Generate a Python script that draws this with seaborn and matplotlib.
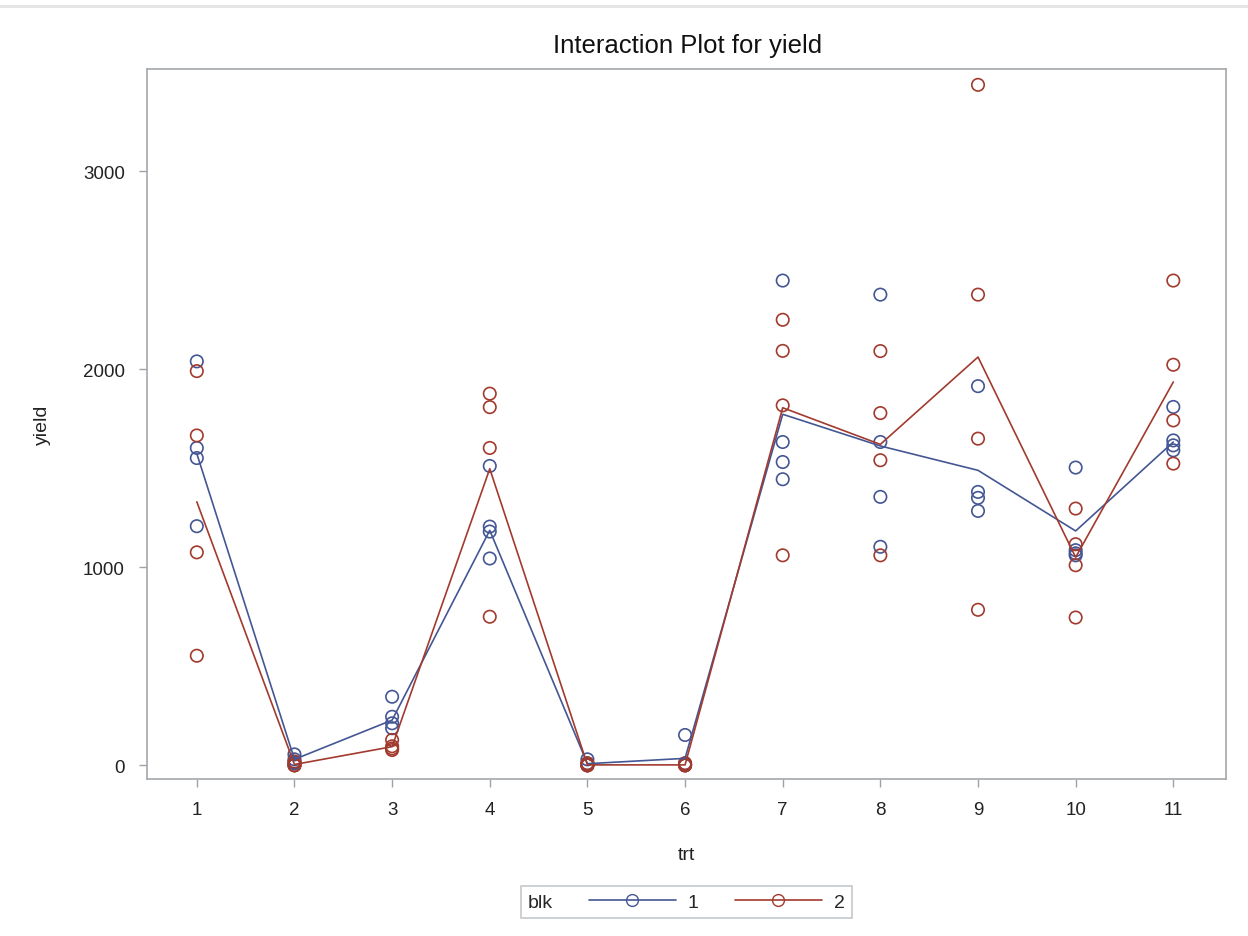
import numpy as np
import pandas as pd
import seaborn as sns
import matplotlib
matplotlib.use("Agg")
import matplotlib.pyplot as plt
from matplotlib.lines import Line2D

# treatments and blocks
trt_levels = [1, 2, 3, 4, 5, 6, 7, 8, 9, 10, 11]
blk_levels = ["1", "2"]

yield_blk1 = [
    [2039, 1602, 1551, 1207],
    [55, 30, 15, 10],
    [346, 245, 212, 187],
    [1511, 1205, 1180, 1044],
    [30, 10, 5, 0],
    [153, 10, 5, 0],
    [2447, 1632, 1531, 1444],
    [2376, 1632, 1355, 1103],
    [1914, 1380, 1350, 1284],
    [1503, 1086, 1070, 1060],
    [1809, 1640, 1615, 1590],
]
yield_blk2 = [
    [1990, 1665, 1075, 553],
    [19, 0, 0, 0],
    [128, 96, 85, 77],
    [1876, 1808, 1602, 750],
    [10, 0, 0, 0],
    [10, 0, 0, 0],
    [2249, 2092, 1817, 1060],
    [2091, 1778, 1540, 1060],
    [3435, 2376, 1649, 785],
    [1296, 1116, 1010, 746],
    [2447, 2022, 1741, 1523],
]

# cell means drawn as the interaction lines
mean_blk1 = [1573, 30, 228, 1186, 8, 35, 1772, 1612, 1489, 1183, 1632]
mean_blk2 = [1330, 4, 94, 1497, 2, 2, 1805, 1620, 2061, 1050, 1935]

colors = {"1": "#445694", "2": "#A23A2E"}

rows = []
for blk, values in zip(blk_levels, [yield_blk1, yield_blk2]):
    for t, obs in zip(trt_levels, values):
        for v in obs:
            rows.append({"trt": t, "blk": blk, "yield": v})
df = pd.DataFrame(rows)

means = pd.DataFrame({
    "trt": trt_levels * 2,
    "blk": ["1"] * len(trt_levels) + ["2"] * len(trt_levels),
    "yield": mean_blk1 + mean_blk2,
})

sns.set_theme(style="white")
plt.rcParams["font.family"] = ["Liberation Sans", "DejaVu Sans"]

fig = plt.figure(figsize=(12.48, 9.37), dpi=100)
ax = fig.add_axes([0.1178, 0.1676, 0.8646, 0.7577])

sns.lineplot(data=means, x="trt", y="yield", hue="blk", palette=colors,
             legend=False, linewidth=1.2, ax=ax)
sns.scatterplot(data=df, x="trt", y="yield", hue="blk", palette=colors,
                marker="o", s=80, linewidth=1.2, legend=False, ax=ax)

# hollow circles
for coll in ax.collections:
    fc = coll.get_facecolors()
    coll.set_edgecolors(fc)
    coll.set_facecolors("none")

ax.set_xlim(0.49, 11.54)
ax.set_ylim(-69, 3515)
ax.set_xticks(trt_levels)
ax.set_yticks([0, 1000, 2000, 3000])
ax.tick_params(axis="both", which="both", length=6, width=1, color="#9ea2a6",
               labelsize=13.5, labelcolor="#222222")
ax.tick_params(axis="x", bottom=True, pad=10)
ax.tick_params(axis="y", left=True, pad=10)
for sp in ax.spines.values():
    sp.set_color("#a4a8ac")
    sp.set_linewidth(1.2)

ax.set_xlabel("trt", fontsize=14, color="#222222", labelpad=20)
ax.set_ylabel("yield", fontsize=14, color="#222222", labelpad=23)
fig.text(0.551, 0.951, "Interaction Plot for yield", ha="center", va="center",
         fontsize=18.5, color="#111111")

# legend with the title on the left
handles = [Line2D([], [], color=colors[b], marker="o", markerfacecolor="none",
                  markeredgecolor=colors[b], markersize=8.5, linewidth=1.2)
           for b in blk_levels]
leg = fig.legend(handles, blk_levels, title="blk", ncol=2, loc="center",
                 bbox_to_anchor=(0.5497, 0.0362), fontsize=14,
                 title_fontsize=14, handlelength=4.5, handletextpad=0.6,
                 columnspacing=1.1, frameon=True, fancybox=False,
                 borderpad=0.35, edgecolor="#b8bcc0")
leg.get_frame().set_linewidth(1.2)
box = leg.get_children()[0]
title_box = box.get_children()[0]
hpack = box.get_children()[1]
box._children = [hpack]
hpack._children = [title_box] + hpack.get_children()
hpack.sep = 26

# faint top border of the screenshot
fig.add_artist(Line2D([0, 1], [0.992, 0.992], color="#e2e4e6", linewidth=2,
                      transform=fig.transFigure))

fig.savefig("out.png", dpi=100)
